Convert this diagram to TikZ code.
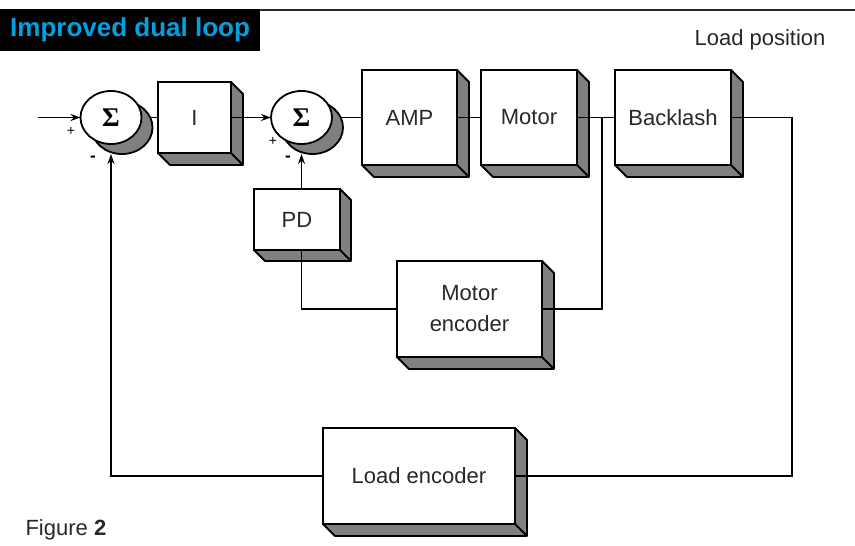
\documentclass[tikz,border=0pt]{standalone}
\usepackage[no-math]{fontspec}
\setmainfont{Liberation Sans}
\newfontfamily\sigmafont{Liberation Serif}
\usetikzlibrary{shapes.geometric, arrows.meta, positioning, shadows}
\definecolor{titlecyan}{RGB}{0,160,225}
\definecolor{boxgray}{RGB}{128,128,128}
\definecolor{inkgray}{RGB}{40,40,40}
\pgfdeclarelayer{front}
\pgfsetlayers{main,front}
\tikzstyle{arrow} = [line width=1.4pt, -{Stealth[length=10pt,width=7pt]}]
\tikzstyle{line} = [line width=1.4pt]
\tikzstyle{block} = [rectangle, draw=black, line width=1.8pt, fill=white, inner sep=0pt, outer sep=0pt, text=inkgray, font=\fontsize{22}{31}\selectfont, align=center]
\tikzstyle{depth} = [draw=black, fill=boxgray, line width=1.8pt, line join=round]
\tikzstyle{sum} = [ellipse, draw=black, fill=white, line width=1.8pt, minimum width=61pt, minimum height=53pt, inner sep=0pt, outer sep=0pt, font=\sigmafont\bfseries\fontsize{27}{27}\selectfont, drop shadow={shadow xshift=11pt, shadow yshift=-10pt, fill=boxgray, draw=black, opacity=1}]
\tikzstyle{sign} = [inner sep=0pt, font=\fontsize{14}{14}\selectfont]
% grey side and bottom faces of a block
\newcommand\extrude[2][12]{%
  \draw[depth] (#2.north east) -- ([shift={(#1,#1)}]#2.north east) -- ([shift={(#1,#1)}]#2.south east)
    -- ([shift={(#1,#1)}]#2.south west) -- (#2.south west) -- (#2.south east) -- cycle;
  \draw[depth] (#2.south east) -- ([shift={(#1,#1)}]#2.south east);
}
\begin{document}
\begin{tikzpicture}[x=1pt, y=-1pt]
\useasboundingbox (0,0) rectangle (855,546);

% Heading
\node (title) [anchor=north west, fill=black, text=titlecyan, inner xsep=10pt, minimum height=42pt, font=\bfseries\fontsize{26}{26}\selectfont] at (0,9) {Improved dual loop};
\coordinate (rulestart) at (title.north east);
\coordinate (ruleend) at (855,9);
\draw [line width=2.4pt, draw=inkgray] ([yshift=-1.2pt]rulestart) -- ([yshift=-1.2pt]ruleend);
\node (lposlabel) [text=inkgray, font=\fontsize{22}{22}\selectfont] at (760,40) {Load position};
\node (fig) [anchor=west, text=inkgray, font=\fontsize{22}{22}\selectfont] at (22,530) {Figure \textbf{2}};

% Summing junctions and blocks
\begin{pgfonlayer}{front}
\node (sumA) [sum] at (111,117.5) {Σ};
\end{pgfonlayer}
\node (intg) [block, right=16.5pt of sumA, minimum width=73pt, minimum height=71pt] {I};
\begin{pgfonlayer}{front}
\node (sumB) [sum, right=40pt of intg] {Σ};
\end{pgfonlayer}
\node (amp) [block, right=30pt of sumB, minimum width=95pt, minimum height=95pt] {AMP};
\node (motor) [block, right=24pt of amp, minimum width=96pt, minimum height=95pt] {Motor};
\node (backlash) [block, right=38pt of motor, minimum width=116pt, minimum height=95pt] {Backlash};
\node (pd) [block, below=45pt of sumB, xshift=-4.5pt, minimum width=86pt, minimum height=61pt] {PD};
\node (menc) [block, minimum width=145pt, minimum height=96pt] at (469.5,309) {Motor\\encoder};
\node (lenc) [block, minimum width=192pt, minimum height=96pt] at (419,476) {Load encoder};
\extrude{intg}
\extrude{amp}
\extrude{motor}
\extrude{backlash}
\extrude[11]{pd}
\extrude{menc}
\extrude{lenc}

% Signs at the junctions
\node (plusA) [sign] at (71,131) {+};
\node (minusA) [sign, font=\bfseries\fontsize{17}{17}\selectfont] at (93,159) {-};
\node (plusB) [sign] at (273,141) {+};
\node (minusB) [sign, font=\bfseries\fontsize{17}{17}\selectfont] at (288,159) {-};

% Connectors
\coordinate (in) at (38,117.5);
\coordinate (tap) at (602,117.5);
\coordinate (lpos) at (792,117.5);
\coordinate (sumAin) at ([yshift=-10pt]sumA.south);
\coordinate (sumBin) at ([yshift=-10pt]sumB.south);
\draw [arrow] (in) -- (sumA);
\draw [line] (sumA) -- (intg);
\draw [arrow] (intg) -- (sumB);
\draw [line] (sumB) -- (amp);
\draw [line] (amp) -- (motor);
\draw [line] (motor) -- (backlash);
\draw [line] (tap) |- (menc);
\draw [line] (backlash) -- (lpos) |- (lenc);
\draw [arrow] (lenc) -| (sumAin);
\draw [arrow] (sumB |- pd.north) -- (sumBin);
\draw [line] (sumB |- pd.south) |- (menc);
\end{tikzpicture}
\end{document}
